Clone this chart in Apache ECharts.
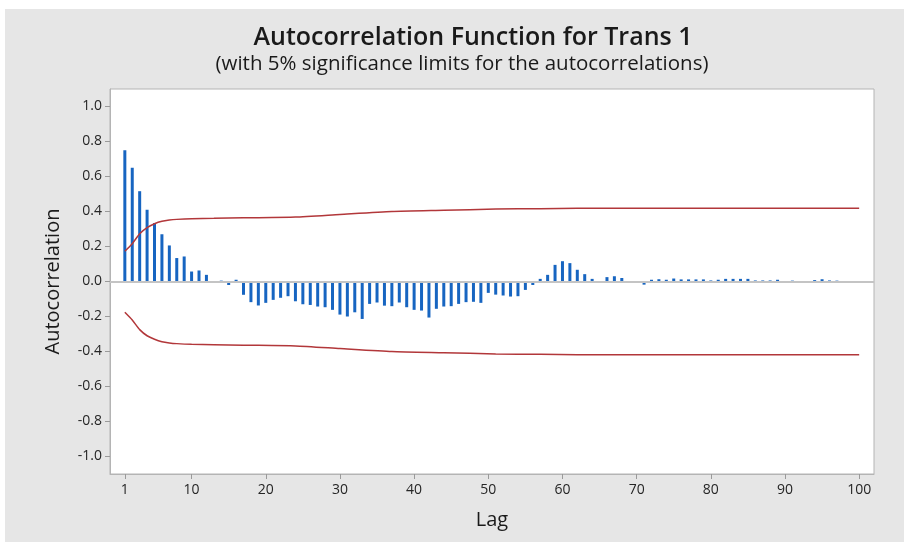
<!DOCTYPE html>
<html>
<head>
<meta charset="utf-8">
<script src="https://cdn.jsdelivr.net/npm/echarts@6/dist/echarts.min.js"></script>
<style>
  html, body { margin: 0; padding: 0; background: #ffffff; }
  #chart { width: 904px; height: 545px; }
</style>
</head>
<body>
<div id="chart"></div>
<script>
// Autocorrelation of "Trans 1", lags 1..100
const acfValues = [
  0.75, 0.65, 0.516, 0.41, 0.334, 0.27, 0.206, 0.134, 0.143, 0.057,
  0.063, 0.038, 0.0, 0.005, -0.02, 0.01, -0.076, -0.118, -0.137, -0.122,
  -0.105, -0.093, -0.084, -0.113, -0.13, -0.134, -0.143, -0.147, -0.162, -0.189,
  -0.2, -0.176, -0.214, -0.128, -0.12, -0.138, -0.141, -0.12, -0.147, -0.162,
  -0.166, -0.206, -0.156, -0.143, -0.141, -0.128, -0.118, -0.116, -0.122, -0.065,
  -0.075, -0.08, -0.086, -0.084, -0.048, -0.02, 0.015, 0.038, 0.095, 0.116,
  0.105, 0.067, 0.042, 0.015, 0.0, 0.025, 0.03, 0.02, 0.0, 0.0,
  -0.018, 0.01, 0.013, 0.01, 0.017, 0.012, 0.012, 0.012, 0.012, 0.006,
  0.01, 0.015, 0.015, 0.015, 0.015, 0.006, 0.006, 0.006, 0.01, 0.0,
  0.005, 0.0, 0.0, 0.008, 0.013, 0.006, 0.005, 0.0, 0.0, 0.0
];

// 5% significance limits at selected lags
const limitLags  = [1, 2, 3, 4, 5, 6, 7, 8, 10, 13, 17, 24, 30, 37, 44, 51, 57, 62, 70, 80, 90, 100];
const upperLimit = [0.173, 0.216, 0.273, 0.308, 0.33, 0.344, 0.351, 0.355, 0.359, 0.361, 0.364, 0.368,
                    0.383, 0.4, 0.407, 0.414, 0.416, 0.419, 0.419, 0.419, 0.419, 0.419];
const lowerLimit = [-0.176, -0.22, -0.275, -0.31, -0.33, -0.344, -0.351, -0.355, -0.359, -0.361, -0.364, -0.368,
                    -0.383, -0.4, -0.407, -0.414, -0.416, -0.419, -0.419, -0.419, -0.419, -0.419];

// Axis tick positions
const lagTicks = [1, 10, 20, 30, 40, 50, 60, 70, 80, 90, 100];
const acfTicks = [-1.0, -0.8, -0.6, -0.4, -0.2, 0.0, 0.2, 0.4, 0.6, 0.8, 1.0];

const FONT = '"Open Sans", "Noto Sans", sans-serif';
const barData = acfValues.map((v, i) => [i + 1, v]);
const upperData = limitLags.map((l, i) => [l, upperLimit[i]]);
const lowerData = limitLags.map((l, i) => [l, lowerLimit[i]]);

const chart = echarts.init(document.getElementById('chart'), null, { renderer: 'canvas' });

chart.setOption({
  animation: false,
  backgroundColor: '#ffffff',
  graphic: [
    { type: 'rect', z: -10, shape: { x: 5, y: 9, width: 899, height: 533 }, style: { fill: '#e6e6e6' } },
    { type: 'text', x: 473, y: 38, style: { text: 'Autocorrelation Function for Trans 1', font: '600 25px ' + FONT, fill: '#1a1a1a', textAlign: 'center', textVerticalAlign: 'middle' } },
    { type: 'text', x: 462, y: 64, style: { text: '(with 5% significance limits for the autocorrelations)', font: '20.5px ' + FONT, fill: '#1a1a1a', textAlign: 'center', textVerticalAlign: 'middle' } }
  ],
  grid: {
    left: 110, right: 30, top: 89, bottom: 71,
    show: true, backgroundColor: '#ffffff', borderColor: '#b4b4b4', borderWidth: 1
  },
  xAxis: {
    type: 'value', min: -1, max: 102,
    name: 'Lag', nameLocation: 'middle', nameGap: 36,
    nameTextStyle: { fontFamily: FONT, fontSize: 20, color: '#1a1a1a' },
    axisLine: { show: true, onZero: false, lineStyle: { color: '#b4b4b4' } },
    axisTick: { show: true, customValues: lagTicks, length: 5, lineStyle: { color: '#9a9a9a' } },
    axisLabel: { customValues: lagTicks, fontFamily: FONT, fontSize: 14, color: '#262626', margin: 9 },
    splitLine: { show: false }
  },
  yAxis: {
    type: 'value', min: -1.1, max: 1.1,
    name: 'Autocorrelation', nameLocation: 'middle', nameGap: 47, nameRotate: 90,
    nameTextStyle: { fontFamily: FONT, fontSize: 20, color: '#1a1a1a' },
    axisLine: { show: true, onZero: false, lineStyle: { color: '#b4b4b4' } },
    axisTick: { show: true, customValues: acfTicks, length: 5, lineStyle: { color: '#9a9a9a' } },
    axisLabel: { customValues: acfTicks, fontFamily: FONT, fontSize: 14, color: '#262626', margin: 8,
                 formatter: v => v.toFixed(1) },
    splitLine: { show: false }
  },
  series: [
    {
      type: 'bar', data: barData, barWidth: 3,
      itemStyle: { color: '#1765c1' },
      markLine: {
        silent: true, symbol: 'none', label: { show: false },
        lineStyle: { color: '#c4c4c4', width: 2, type: 'solid' },
        data: [{ yAxis: 0 }]
      }
    },
    {
      type: 'line', data: upperData, showSymbol: false, smooth: 0.2,
      lineStyle: { color: '#b2373a', width: 1.5 }, z: 3
    },
    {
      type: 'line', data: lowerData, showSymbol: false, smooth: 0.2,
      lineStyle: { color: '#b2373a', width: 1.5 }, z: 3
    }
  ]
});
</script>
</body>
</html>
